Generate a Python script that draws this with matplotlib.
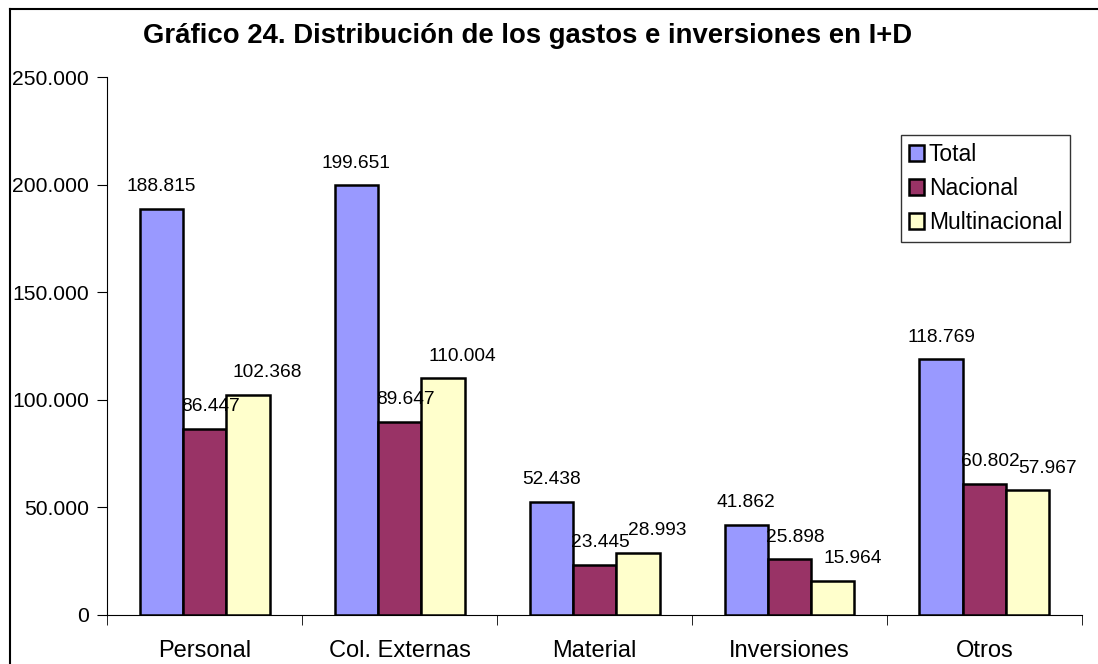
import numpy as np
import matplotlib
matplotlib.use("Agg")
import matplotlib.pyplot as plt
from matplotlib.lines import Line2D
from matplotlib.ticker import FuncFormatter

categories = ["Personal", "Col. Externas", "Material", "Inversiones", "Otros"]
total = [188815, 199651, 52438, 41862, 118769]
nacional = [86447, 89647, 23445, 25898, 60802]
multinacional = [102368, 110004, 28993, 15964, 57967]
series_names = ["Total", "Nacional", "Multinacional"]
colors = ["#9999FF", "#993366", "#FFFFCC"]
# label nudges (points) per series, as in the original sheet
label_dx = [0, 4, 14]

plt.rcParams['font.family'] = ['Liberation Sans', 'DejaVu Sans']


def miles(v, pos=None):
    return f"{int(round(v)):,}".replace(",", ".")


fig = plt.figure(figsize=(10.98, 6.64), dpi=100)
ax = fig.add_axes([0.0975, 0.0738, 0.8879, 0.8102])

x = np.arange(len(categories))
w = 1 / 4.5
for i, (vals, name, c) in enumerate(zip([total, nacional, multinacional], series_names, colors)):
    pos = x + (i - 1) * w
    ax.bar(pos, vals, width=w, color=c, edgecolor="black", linewidth=1.8, label=name, zorder=3)
    for px, v in zip(pos, vals):
        ax.annotate(miles(v), (px, v), xytext=(label_dx[i], 16), textcoords="offset points",
                    ha="center", va="center", fontsize=13.8, zorder=6)

ax.set_xlim(-0.5, len(categories) - 0.5)
ax.set_ylim(0, 250000)
ax.set_yticks(np.arange(0, 250001, 50000))
ax.yaxis.set_major_formatter(FuncFormatter(miles))
ax.set_xticks(x)
ax.set_xticklabels(categories, fontsize=17)
ax.set_xticks(np.arange(-0.5, len(categories)), minor=True)
ax.tick_params(axis="x", which="major", length=0, pad=18)
ax.tick_params(axis="x", which="minor", length=7.5, direction="out")
ax.tick_params(axis="y", labelsize=15.2, length=7.5, direction="out", pad=5.5)
for s in ["top", "right"]:
    ax.spines[s].set_visible(False)

ax.legend(loc="upper right", bbox_to_anchor=(0.988, 0.892), fontsize=16.5, frameon=True,
          fancybox=False, edgecolor="black", handlelength=0.65, handleheight=0.65,
          handletextpad=0.2, borderpad=0.35, labelspacing=0.48, borderaxespad=0)

fig.text(143 / 1098, 1 - 36 / 664, "Gráfico 24. Distribución de los gastos e inversiones en I+D",
         fontsize=19.8, fontweight="bold", ha="left", va="center")

# outer frame like the spreadsheet chart area
fig.add_artist(Line2D([10 / 1098, 1.0], [1 - 9 / 664, 1 - 9 / 664], color="black", lw=1.5))
fig.add_artist(Line2D([10 / 1098, 10 / 1098], [0, 1 - 9 / 664], color="black", lw=1.5))

fig.savefig("out.png", dpi=100)
